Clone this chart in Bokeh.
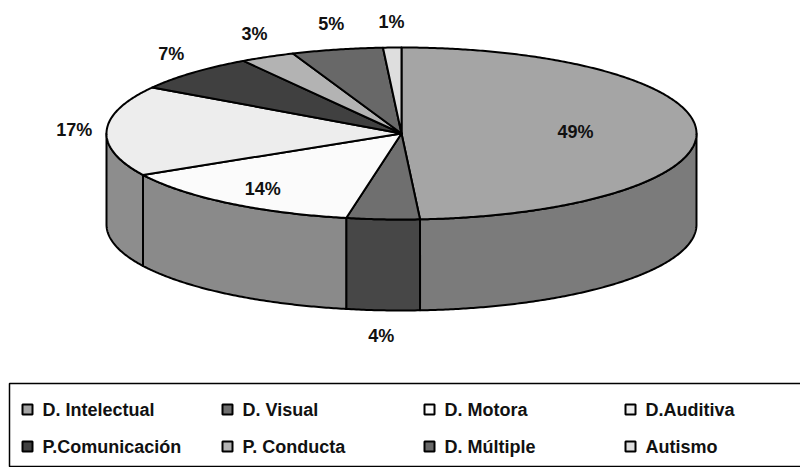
import numpy as np
from bokeh.plotting import figure
from bokeh.models import Range1d
from bokeh.core.properties import value
from bokeh.embed import file_html
from bokeh.resources import INLINE

# Distribution of students by type of disability (percent)
categories = ["D. Intelectual", "D. Visual", "D. Motora", "D.Auditiva",
              "P.Comunicación", "P. Conducta", "D. Múltiple", "Autismo"]
percentages = [49, 4, 14, 17, 7, 3, 5, 1]

# Greyscale styling: top face and side wall of each slice
top_colors = ["#a5a5a5", "#6f6f6f", "#fbfbfb", "#ededed",
              "#404040", "#b3b3b3", "#686868", "#dedede"]
side_colors = ["#7b7b7b", "#474747", "#8a8a8a", "#8d8d8d",
               "#2a2a2a", "#808080", "#454545", "#a0a0a0"]
# Labels drawn on the slice (radius fraction) or outside it (None)
inner_label_radius = [0.59, None, 0.8, None, None, None, None, None]

# Projected pie geometry (pixels)
CX, CY = 401.0, 133.0
RX, RY = 295.0, 86.0
DEPTH = 91.0
LABEL_GAP = 26.0

def ellipse_point(deg):
    t = np.radians(deg)
    return CX + RX * np.sin(t), CY - RY * np.cos(t)

def arc(a0, a1):
    n = max(4, int(abs(a1 - a0) * 2) + 2)
    ang = np.linspace(a0, a1, n)
    xs, ys = ellipse_point(ang)
    return list(xs), list(ys)

# Angular extent of every slice, clockwise from 12 o'clock
total = float(sum(percentages))
ends = np.cumsum(percentages) / total * 360.0
starts = np.concatenate([[0.0], ends[:-1]])

p = figure(width=800, height=467, output_backend="svg", toolbar_location=None,
           x_range=Range1d(0, 800), y_range=Range1d(467, 0),
           min_border=0, outline_line_color=None)
p.axis.visible = False
p.grid.visible = False
p.background_fill_color = "white"
p.border_fill_color = "white"

# Side walls (front half only)
wall_xs, wall_ys, wall_c = [], [], []
for a0, a1, c in zip(starts, ends, side_colors):
    lo, hi = max(a0, 90.0), min(a1, 270.0)
    if lo < hi:
        xs, ys = arc(lo, hi)
        wall_xs.append(xs + xs[::-1])
        wall_ys.append(ys + [y + DEPTH for y in ys[::-1]])
        wall_c.append(c)
p.patches(xs=wall_xs, ys=wall_ys, fill_color=wall_c, line_color="black",
          line_width=2, line_join="round")

# Top faces
top_xs, top_ys = [], []
for a0, a1 in zip(starts, ends):
    xs, ys = arc(a0, a1)
    top_xs.append([CX] + xs)
    top_ys.append([CY] + ys)
p.patches(xs=top_xs, ys=top_ys, fill_color=top_colors, line_color="black",
          line_width=2, line_join="round")

# Percentage labels
lx, ly, lt = [], [], []
for a0, a1, v, r in zip(starts, ends, percentages, inner_label_radius):
    mid = (a0 + a1) / 2.0
    t = np.radians(mid)
    if r is not None:
        x = CX + RX * r * np.sin(t)
        y = CY - RY * r * np.cos(t)
    else:
        ex, ey = ellipse_point(mid)
        if np.cos(t) < 0:
            ey += DEPTH
        x = ex + LABEL_GAP * np.sin(t) * (1.0 + 0.25 * abs(np.sin(t)))
        y = ey - LABEL_GAP * np.cos(t)
    lx.append(float(x))
    ly.append(float(y))
    lt.append(f"{v}%")
p.text(x=lx, y=ly, text=lt, text_align="center", text_baseline="middle",
       text_font=value("Liberation Sans"),
       text_font_style="bold", text_font_size="18px", text_color="#111111")

# Legend box
p.quad(left=[9], right=[812], top=[383], bottom=[466], fill_color="white",
       line_color="black", line_width=1.5)
col_x = [27, 227, 429, 630]
row_y = [409, 446]
mx, my, tx = [], [], []
for i in range(len(categories)):
    mx.append(col_x[i % 4])
    my.append(row_y[i // 4])
    tx.append(col_x[i % 4] + 15)
p.rect(x=mx, y=my, width=10, height=10, fill_color=top_colors,
       line_color="black", line_width=2)
p.text(x=tx, y=my, text=categories, text_align="left", text_baseline="middle",
       text_font=value("Liberation Sans"), text_font_style="bold",
       text_font_size="18px", text_color="#111111")

open("out.html", "w").write(file_html(p, INLINE))
